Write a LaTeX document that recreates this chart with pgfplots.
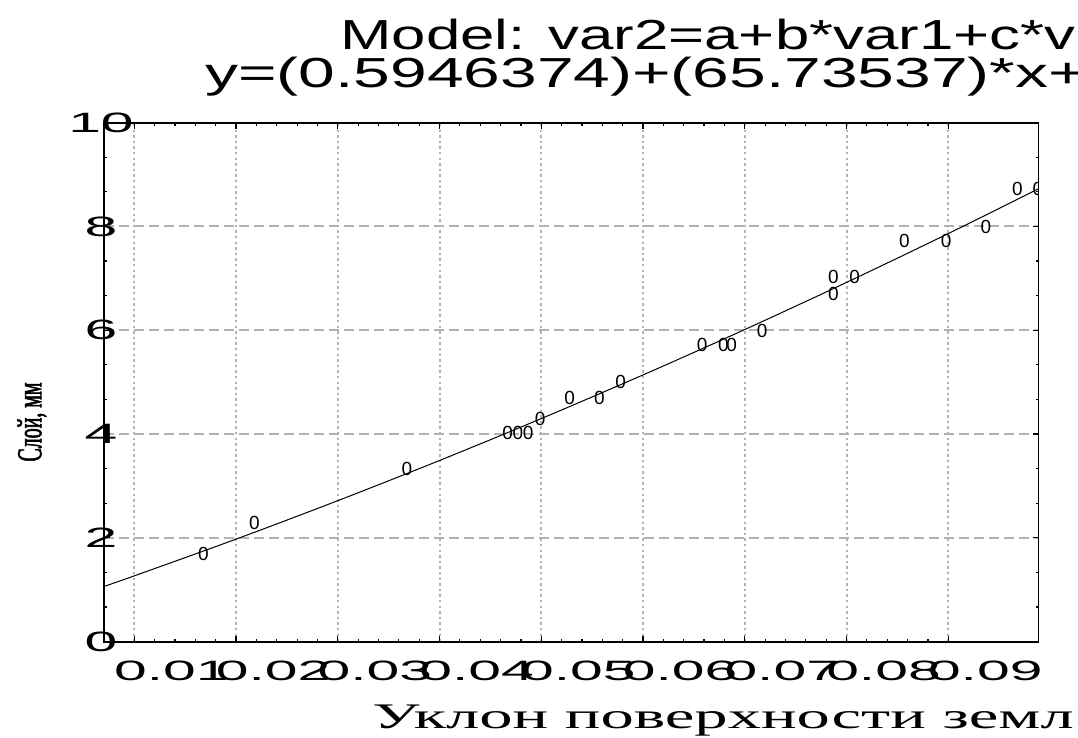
\documentclass[border=0pt]{standalone}
\usepackage{fontspec}
\setmainfont{Liberation Sans}
\usepackage{pgfplots}
\pgfplotsset{compat=1.18}
\newfontfamily\titlefont[FakeStretch=1.47]{Liberation Sans}
\newfontfamily\titlefontb[FakeStretch=1.57]{Liberation Sans}
\newfontfamily\tickfont[FakeStretch=2.1]{Liberation Sans}
\newfontfamily\xlabfont[FakeStretch=1.85]{Liberation Serif}
\newfontfamily\ylabfont[FakeStretch=0.57,FakeBold=1.5]{Liberation Serif}
\newfontfamily\markfont{Liberation Sans}
\begin{document}
\begin{tikzpicture}
\begin{axis}[
  at={(0,0)}, anchor=south west,
  scale only axis, width=467.25pt, height=259.5pt,
  xmin=0.00702, xmax=0.09887, ymin=0, ymax=10,
  scaled x ticks=false, scaled y ticks=false,
  xtick={0.01,0.02,0.03,0.04,0.05,0.06,0.07,0.08,0.09},
  xticklabels={0.01,0.02,0.03,0.04,0.05,0.06,0.07,0.08,0.09},
  ytick={0,2,4,6,8,10}, yticklabels={0,2,4,6,8,10},
  minor x tick num=4, minor y tick num=2,
  tick align=inside,
  major tick length=3pt, minor tick length=1.5pt,
  grid=major,
  major x grid style={black!30, line width=1pt, dash pattern=on 1.2pt off 1.6pt},
  major y grid style={black!30, line width=1pt, dash pattern=on 5pt off 2.5pt},
  axis line style={black, line width=0.9pt},
  tick style={black, line width=0.6pt},
  xticklabel style={font=\tickfont\fontsize{14}{14}\selectfont, anchor=north, xshift=18.5pt, yshift=-6pt},
  yticklabel style={font=\tickfont\fontsize{14}{14}\selectfont, anchor=center, xshift=-1.5pt},
  clip marker paths=true,
]
\addplot[black, line width=0.5pt, smooth, mark=none] coordinates {
  (0.00702,1.0643) (0.01,1.2687) (0.02,1.9761) (0.03,2.7170) (0.04,3.4912)
  (0.05,4.2989) (0.06,5.1399) (0.07,6.0144) (0.08,6.9222) (0.09,7.8635) (0.09887,8.7263)
};
\addplot[black, only marks, mark=text, text mark={\markfont\fontsize{9.5}{9.5}\selectfont 0}] coordinates {
  (0.0070,1.00) (0.0168,1.70) (0.0218,2.28) (0.0368,3.32)
  (0.0467,4.02) (0.0477,4.02) (0.0487,4.02) (0.0499,4.30)
  (0.0528,4.69) (0.0557,4.69) (0.0578,5.00)
  (0.0658,5.72) (0.0679,5.72) (0.0687,5.72) (0.0717,5.99)
  (0.0787,6.70) (0.0787,7.02) (0.0808,7.02)
  (0.0857,7.73) (0.0898,7.73) (0.0937,8.00)
  (0.0968,8.72) (0.0988,8.72)
};
\end{axis}
\node[anchor=base west, inner sep=0pt, font=\titlefont\fontsize{21}{21}\selectfont] at (118pt,296pt) {Model: var2=a+b*var1+c*v};
\node[anchor=base west, inner sep=0pt, font=\titlefontb\fontsize{21}{21}\selectfont] at (50.5pt,277pt) {y=(0.5946374)+(65.73537)*x+};
\node[anchor=base west, inner sep=0pt, font=\xlabfont\fontsize{18}{18}\selectfont] at (134pt,-43.5pt) {Уклон поверхности земл};
\node[rotate=90, inner sep=0pt, font=\ylabfont\fontsize{17.5}{17.5}\selectfont] at (-36pt,109.85pt) {Слой, мм};
\pgfresetboundingbox
\path[use as bounding box] (-52pt,-48.15pt) rectangle (487pt,320.85pt);
\end{tikzpicture}
\end{document}
